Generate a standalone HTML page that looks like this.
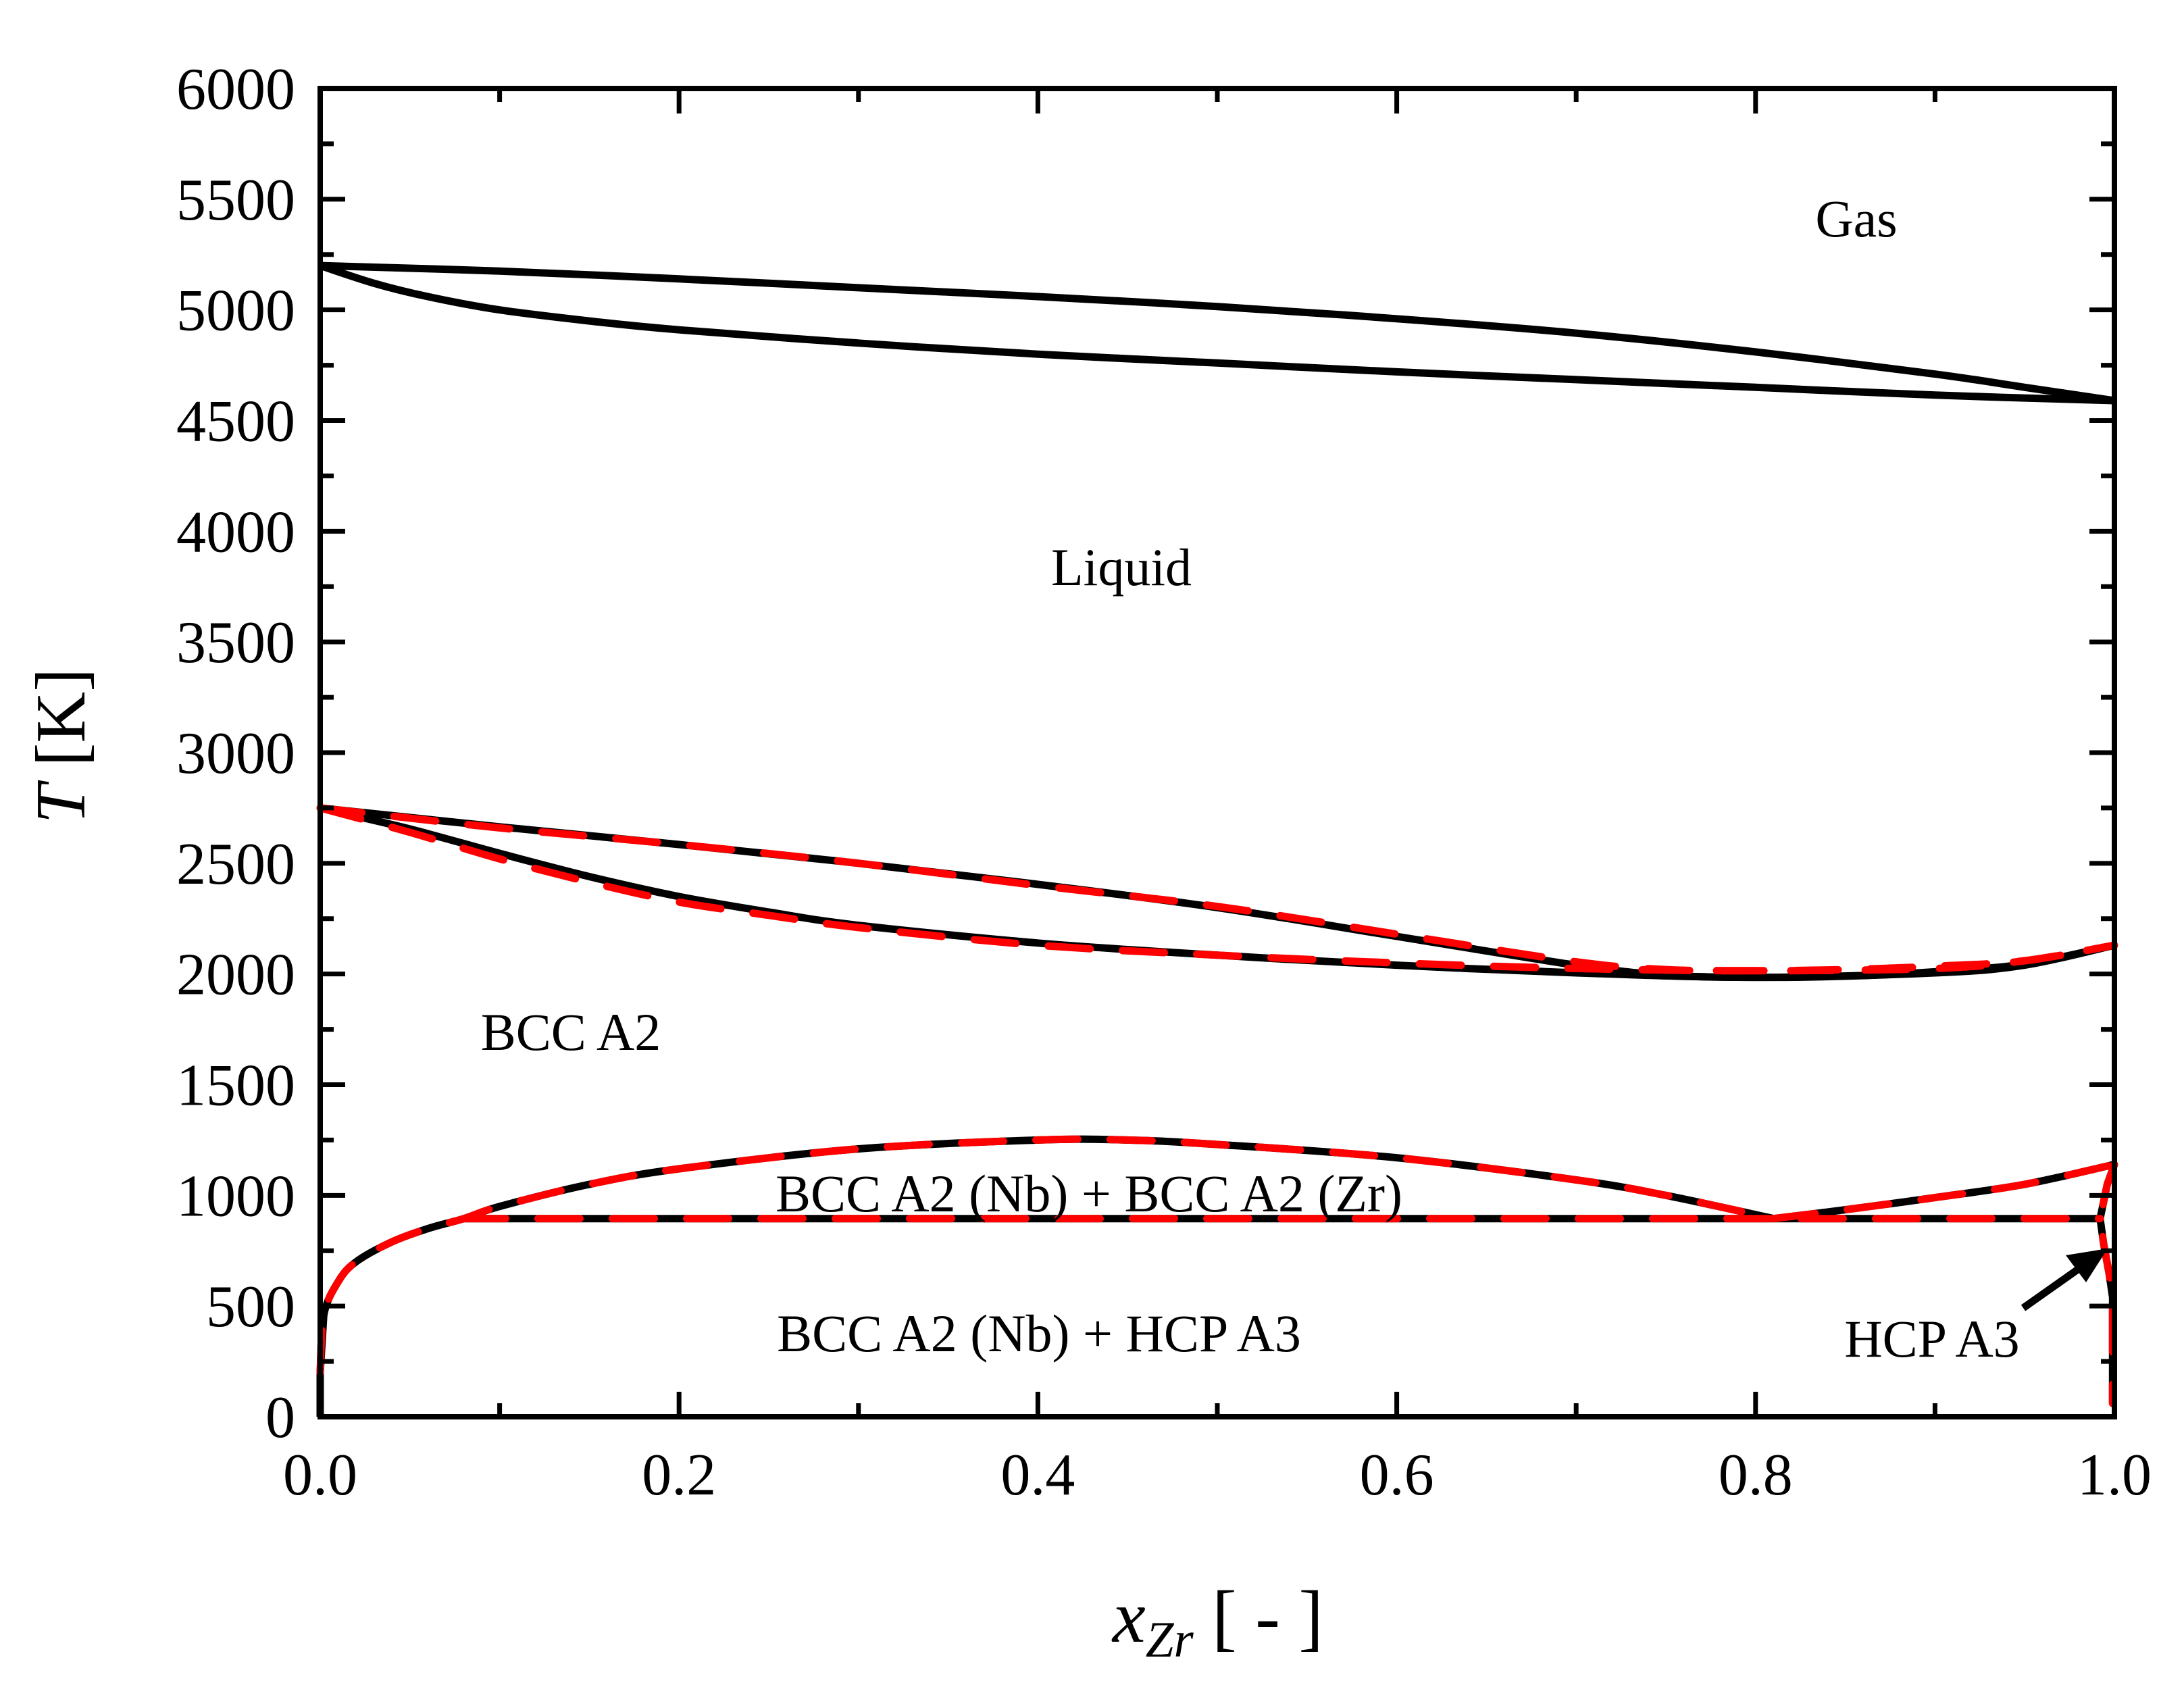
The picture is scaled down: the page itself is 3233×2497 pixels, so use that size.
<!DOCTYPE html>
<html><head><meta charset="utf-8"><style>
html,body{margin:0;padding:0;background:#fff;}
svg{display:block;}
text{font-family:"Liberation Serif",serif;fill:#000;}
</style></head><body>
<svg id="chart" width="3233" height="2497" viewBox="0 0 3233 2497" xmlns="http://www.w3.org/2000/svg">
<g id="curves"></g>
<g id="axes"></g>
<text x="2748" y="350" font-size="78" text-anchor="middle">Gas</text>
<text x="1660" y="866" font-size="78" text-anchor="middle">Liquid</text>
<text x="845" y="1554" font-size="78" text-anchor="middle">BCC A2</text>
<text x="1612" y="1793" font-size="78" text-anchor="middle">BCC A2 (Nb) + BCC A2 (Zr)</text>
<text x="1538" y="2000" font-size="78" text-anchor="middle">BCC A2 (Nb) + HCP A3</text>
<text x="2860" y="2008" font-size="78" text-anchor="middle">HCP A3</text>
<g>
<line x1="2995" y1="1936" x2="3080" y2="1876" stroke="#000" stroke-width="11"/>
<polygon points="3120,1848 3058,1858 3088,1898" fill="#000"/>
</g>
<text transform="translate(125,1104) rotate(-90)" font-size="105" text-anchor="middle"><tspan font-style="italic">T</tspan> [K]</text>
<text x="1803" y="2430" font-size="110" text-anchor="middle"><tspan font-style="italic">x</tspan><tspan font-style="italic" font-size="75" dy="22">Zr</tspan><tspan dy="-22"> [ - ]</tspan></text>
</svg>
<script>
const xTicks=[0,0.2,0.4,0.6,0.8,1.0];
const xTickLabels=["0.0","0.2","0.4","0.6","0.8","1.0"];
const yTicks=[0,500,1000,1500,2000,2500,3000,3500,4000,4500,5000,5500,6000];
const gasUpperX=[0,0.1,0.2,0.3,0.4,0.5,0.6,0.7,0.8,0.9,0.95,1];
const gasUpperT=[5200,5175,5140,5100,5060,5015,4960,4895,4810,4710,4650,4590];
const gasLowerX=[0,0.03,0.06,0.1,0.15,0.2,0.3,0.4,0.5,0.6,0.7,0.8,0.9,1];
const gasLowerT=[5200,5120,5060,5000,4950,4910,4850,4800,4760,4720,4685,4650,4615,4590];
const liqX=[0,0.1,0.2,0.3,0.4,0.5,0.6,0.7,0.75,0.8,0.85,0.9,0.95,1];
const liqT=[2750,2665,2585,2500,2405,2300,2170,2040,1995,1985,1990,2010,2045,2130];
const solX=[0,0.05,0.1,0.15,0.2,0.25,0.3,0.4,0.5,0.6,0.7,0.8,0.9,0.95,1];
const solT=[2750,2655,2545,2440,2350,2280,2220,2140,2085,2040,2005,1985,2005,2040,2130];
const liqRedT=[2750,2660,2585,2500,2400,2305,2180,2055,2020,2015,2020,2035,2060,2130];
const solRedT=[2750,2640,2520,2415,2325,2265,2210,2130,2085,2050,2025,2015,2025,2060,2130];
const gapX=[0,0.002,0.01,0.02,0.04,0.06,0.08,0.1,0.15,0.2,0.3,0.4,0.45,0.5,0.6,0.7,0.75,0.81];
const gapT=[200,460,610,700,790,850,895,950,1050,1120,1210,1250,1250,1230,1170,1070,1000,895];
const gapRightX=[0.81,0.85,0.9,0.95,1];
const gapRightT=[895,935,990,1050,1140];
const eutX=[0.08,0.992];
const eutT=[895,895];
const hcpX=[1,0.996,0.992,0.994,0.997,0.999,0.999];
const hcpT=[1140,1050,895,780,650,540,60];
const nbEdgeX=[0,0,0.002];
const nbEdgeT=[0,200,460];
const L=474,R=3130,TOP=131,BOT=2097;
function sx(v){return L+v*(R-L);}
function sy(t){return BOT-t/6000*(BOT-TOP);}
const NS="http://www.w3.org/2000/svg";
const curves=document.getElementById('curves');
const axes=document.getElementById('axes');
function pathD(xs,ts,smooth){
  const P=xs.map((x,i)=>[sx(x),sy(ts[i])]);
  if(!smooth||P.length<3)return P.map((p,i)=>(i?'L':'M')+p[0].toFixed(1)+','+p[1].toFixed(1)).join(' ');
  let d='M'+P[0][0].toFixed(1)+','+P[0][1].toFixed(1);
  for(let i=0;i<P.length-1;i++){
    const p0=P[Math.max(0,i-1)],p1=P[i],p2=P[i+1],p3=P[Math.min(P.length-1,i+2)];
    const c1=[p1[0]+(p2[0]-p0[0])/6,p1[1]+(p2[1]-p0[1])/6];
    const c2=[p2[0]-(p3[0]-p1[0])/6,p2[1]-(p3[1]-p1[1])/6];
    d+=' C'+c1[0].toFixed(1)+','+c1[1].toFixed(1)+' '+c2[0].toFixed(1)+','+c2[1].toFixed(1)+' '+p2[0].toFixed(1)+','+p2[1].toFixed(1);
  }
  return d;
}
function addLine(xs,ts,red,name,smooth){
  const p=document.createElementNS(NS,'path');
  p.setAttribute('d',pathD(xs,ts,smooth!==false));
  p.setAttribute('fill','none');
  p.setAttribute('stroke',red?'#ff0000':'#000');
  p.setAttribute('stroke-width','11');
  p.setAttribute('stroke-linejoin','round');
  if(red){p.setAttribute('stroke-dasharray','62 48');p.setAttribute('stroke-linecap','round');}
  
  
  curves.appendChild(p);
}
addLine(gasUpperX,gasUpperT,false,'gas-dew-line');
addLine(gasLowerX,gasLowerT,false,'gas-boiling-line');
addLine(liqX,liqT,false,'liquidus-line');
addLine(solX,solT,false,'solidus-line');
addLine(gapX,gapT,false,'miscibility-gap-left');
addLine(gapRightX,gapRightT,false,'miscibility-gap-right');
addLine(eutX,eutT,false,'eutectoid-line',false);
addLine(hcpX,hcpT,false,'hcp-boundary',false);
addLine(nbEdgeX,nbEdgeT,false,'nb-edge-line',false);
addLine(liqX,liqRedT,true,'liquidus-line-ref');
addLine(solX,solRedT,true,'solidus-line-ref');
addLine(gapX,gapT,true,'miscibility-gap-left-ref');
addLine(gapRightX,gapRightT,true,'miscibility-gap-right-ref');
addLine(eutX,eutT,true,'eutectoid-line-ref',false);
addLine(hcpX,hcpT,true,'hcp-boundary-ref',false);
const fr=document.createElementNS(NS,'rect');
fr.setAttribute('x',L);fr.setAttribute('y',TOP);fr.setAttribute('width',R-L);fr.setAttribute('height',BOT-TOP);
fr.setAttribute('fill','none');fr.setAttribute('stroke','#000');fr.setAttribute('stroke-width','8');


axes.appendChild(fr);
function tick(x1,y1,x2,y2){const l=document.createElementNS(NS,'line');l.setAttribute('x1',x1);l.setAttribute('y1',y1);l.setAttribute('x2',x2);l.setAttribute('y2',y2);l.setAttribute('stroke','#000');l.setAttribute('stroke-width','7');


axes.appendChild(l);}
for(let i=0;i<=10;i++){const v=i/10;const len=i%2===0?37:20;tick(sx(v),BOT,sx(v),BOT-len);tick(sx(v),TOP,sx(v),TOP+len);}
for(let i=0;i<=24;i++){const t=i*250;const len=i%2===0?37:20;tick(L,sy(t),L+len,sy(t));tick(R,sy(t),R-len,sy(t));}
xTicks.forEach((v,i)=>{const t=document.createElementNS(NS,'text');t.setAttribute('x',sx(v));t.setAttribute('y',2212);t.setAttribute('font-size','88');t.setAttribute('text-anchor','middle');t.textContent=xTickLabels[i];


axes.appendChild(t);});
yTicks.forEach(v=>{const t=document.createElementNS(NS,'text');t.setAttribute('x',437);t.setAttribute('y',sy(v)+30);t.setAttribute('font-size','88');t.setAttribute('text-anchor','end');t.textContent=String(v);


axes.appendChild(t);});
</script>
</body></html>
